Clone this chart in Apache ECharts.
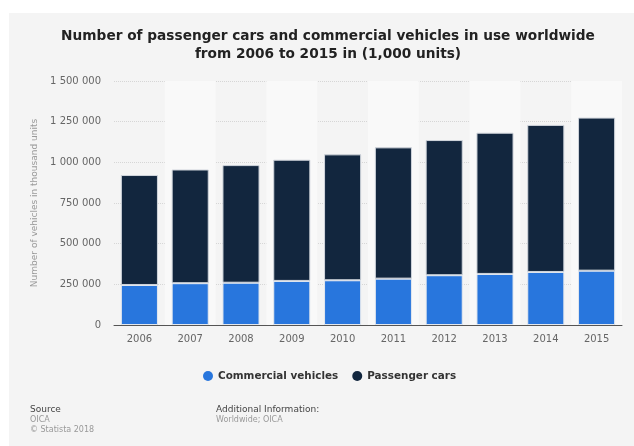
<!DOCTYPE html>
<html>
<head>
<meta charset="utf-8">
<script src="https://cdn.jsdelivr.net/npm/echarts@6/dist/echarts.min.js"></script>
<style>
  html, body { margin: 0; padding: 0; background: #fff; }
  #panel { position: absolute; left: 9px; top: 13px; width: 625px; height: 433px; background: #f4f4f4; }
  #chart { position: absolute; left: 0; top: 0; width: 634px; height: 446px; }
</style>
</head>
<body>
<div id="panel"></div>
<div id="chart"></div>
<script>
const years = ["2006", "2007", "2008", "2009", "2010", "2011", "2012", "2013", "2014", "2015"];
const commercialVehicles = [246000, 257000, 260000, 271000, 275000, 285000, 306000, 314000, 326000, 334000];
const passengerCars = [676000, 699000, 723000, 745000, 774000, 807000, 831000, 868000, 904000, 941000];
const yTicks = [0, 250000, 500000, 750000, 1000000, 1250000, 1500000];

const font = "DejaVu Sans";

function spaced(v) {
  return String(v).replace(/\B(?=(\d{3})+(?!\d))/g, " ");
}

const chart = echarts.init(document.getElementById("chart"));

chart.setOption({
  backgroundColor: "transparent",
  animation: false,
  textStyle: { fontFamily: font },
  title: {
    text: "Number of passenger cars and commercial vehicles in use worldwide\nfrom 2006 to 2015 in (1,000 units)",
    left: 323,
    top: 22,
    textAlign: "center",
    textStyle: { fontFamily: font, fontSize: 13.7, fontWeight: "bold", color: "#222", lineHeight: 18 },
  },
  legend: {
    top: 366,
    left: 198,
    itemWidth: 10,
    itemHeight: 10,
    itemGap: 14,
    icon: "circle",
    itemStyle: { borderWidth: 0 },
    textStyle: { fontFamily: font, fontSize: 10.4, fontWeight: "bold", color: "#333" },
    data: ["Commercial vehicles", "Passenger cars"],
  },
  grid: { left: 114, right: 12, top: 81, bottom: 121 },
  xAxis: {
    type: "category",
    data: years,
    axisLine: { lineStyle: { color: "#555", width: 1 } },
    axisTick: { show: false },
    axisLabel: { color: "#666", fontSize: 10, margin: 9 },
    splitArea: { show: true, areaStyle: { color: ["rgba(0,0,0,0)", "#f9f9f9"] } },
  },
  yAxis: {
    type: "value",
    min: yTicks[0],
    max: yTicks[yTicks.length - 1],
    interval: 250000,
    name: "Number of vehicles in thousand units",
    nameLocation: "middle",
    nameGap: 64,
    nameTextStyle: { color: "#999", fontSize: 9 },
    axisLine: { show: false },
    axisTick: { show: false },
    axisLabel: { color: "#666", fontSize: 10, margin: 13, formatter: spaced },
    splitLine: { lineStyle: { color: "#d6d6d6", type: [1, 1] } },
  },
  series: [
    {
      name: "Commercial vehicles",
      type: "bar",
      stack: "total",
      barWidth: "73%",
      data: commercialVehicles,
      itemStyle: { color: "#2876dd", borderColor: "#e4e8ee", borderWidth: 1 },
    },
    {
      name: "Passenger cars",
      type: "bar",
      stack: "total",
      barWidth: "73%",
      data: passengerCars,
      itemStyle: { color: "#12263e", borderColor: "#d0d5dc", borderWidth: 1 },
    },
  ],
  graphic: [
    { type: "text", left: 30, top: 405, style: { text: "Source", font: "9px DejaVu Sans", fill: "#444" } },
    { type: "text", left: 30, top: 416, style: { text: "OICA", font: "8px DejaVu Sans", fill: "#999" } },
    { type: "text", left: 30, top: 426, style: { text: "© Statista 2018", font: "8px DejaVu Sans", fill: "#999" } },
    { type: "text", left: 216, top: 405, style: { text: "Additional Information:", font: "9px DejaVu Sans", fill: "#444" } },
    { type: "text", left: 216, top: 416, style: { text: "Worldwide; OICA", font: "8px DejaVu Sans", fill: "#999" } },
  ],
});
</script>
</body>
</html>
